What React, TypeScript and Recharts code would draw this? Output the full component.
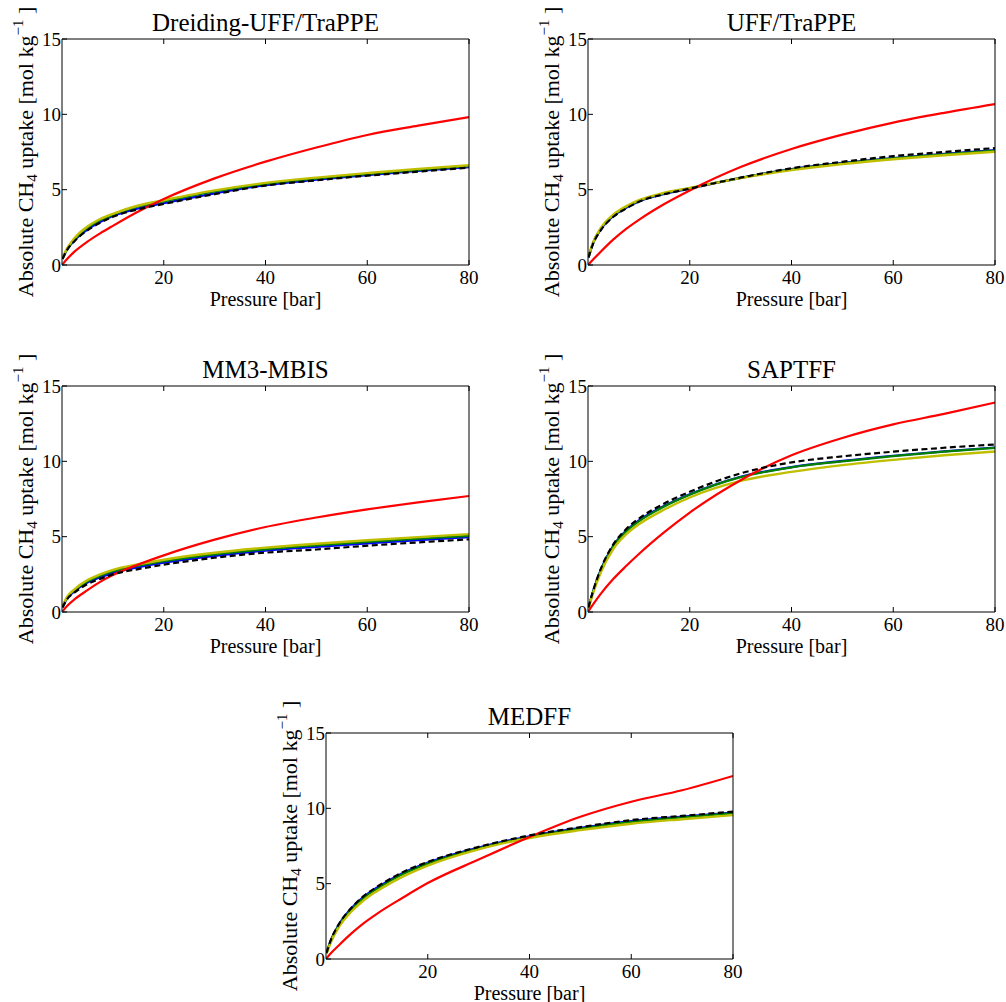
import React from 'react'
import { LineChart, Line, XAxis, YAxis, Label } from 'recharts'

const FONT = '"Liberation Serif", "Times New Roman", serif'

// pressure grid [bar]
const pressure = [0.1, 1, 2.5, 5, 7.5, 10, 15, 20, 30, 40, 50, 60, 70, 80]
const xTicks = [20, 40, 60, 80]
const yTicks = [0, 5, 10, 15]

// Dreiding-UFF/TraPPE
const dreidingRed = [0.05, 0.4, 0.9, 1.55, 2.1, 2.6, 3.55, 4.38, 5.75, 6.86, 7.8, 8.63, 9.25, 9.82]
const dreidingBlack = [0.4, 1.0, 1.6, 2.3, 2.8, 3.2, 3.7, 4.05, 4.7, 5.27, 5.62, 5.93, 6.2, 6.46]
const dreidingBlue = [0.42, 1.03, 1.65, 2.35, 2.85, 3.25, 3.75, 4.1, 4.75, 5.3, 5.66, 5.97, 6.24, 6.5]
const dreidingGreen = [0.43, 1.05, 1.72, 2.47, 2.97, 3.33, 3.88, 4.22, 4.88, 5.38, 5.73, 6.03, 6.3, 6.56]
const dreidingYellow = [0.45, 1.1, 1.8, 2.55, 3.05, 3.4, 3.95, 4.3, 4.95, 5.45, 5.8, 6.1, 6.38, 6.62]

// UFF/TraPPE
const uffRed = [0.04, 0.36, 0.88, 1.7, 2.4, 3.0, 4.05, 4.95, 6.5, 7.7, 8.65, 9.45, 10.1, 10.68]
const uffBlack = [0.5, 1.4, 2.3, 3.2, 3.75, 4.2, 4.7, 5.07, 5.8, 6.42, 6.85, 7.23, 7.5, 7.76]
const uffBlue = [0.5, 1.45, 2.35, 3.25, 3.8, 4.22, 4.72, 5.07, 5.78, 6.36, 6.78, 7.1, 7.38, 7.62]
const uffGreen = [0.52, 1.48, 2.4, 3.3, 3.85, 4.25, 4.75, 5.1, 5.78, 6.35, 6.75, 7.08, 7.35, 7.6]
const uffYellow = [0.55, 1.5, 2.45, 3.35, 3.9, 4.3, 4.8, 5.12, 5.77, 6.3, 6.7, 7.02, 7.28, 7.52]

// MM3-MBIS
const mm3Red = [0.05, 0.4, 0.85, 1.45, 2.0, 2.45, 3.15, 3.76, 4.8, 5.64, 6.27, 6.81, 7.28, 7.7]
const mm3Black = [0.3, 0.85, 1.3, 1.85, 2.2, 2.5, 2.85, 3.14, 3.6, 3.94, 4.15, 4.4, 4.62, 4.82]
const mm3Blue = [0.32, 0.9, 1.38, 1.95, 2.3, 2.6, 2.97, 3.27, 3.73, 4.07, 4.32, 4.55, 4.77, 4.97]
const mm3Green = [0.35, 0.95, 1.45, 2.03, 2.4, 2.7, 3.07, 3.37, 3.83, 4.16, 4.42, 4.65, 4.86, 5.05]
const mm3Yellow = [0.38, 1.0, 1.52, 2.12, 2.5, 2.8, 3.17, 3.47, 3.93, 4.27, 4.53, 4.76, 4.97, 5.17]

// SAPTFF
const saptRed = [0.05, 0.5, 1.2, 2.2, 3.05, 3.85, 5.3, 6.6, 8.75, 10.4, 11.55, 12.45, 13.15, 13.9]
const saptBlack = [0.3, 1.4, 2.85, 4.5, 5.5, 6.2, 7.2, 7.98, 9.2, 9.93, 10.33, 10.64, 10.9, 11.12]
const saptBlue = [0.3, 1.38, 2.8, 4.42, 5.4, 6.08, 7.05, 7.82, 8.98, 9.62, 10.03, 10.37, 10.66, 10.92]
const saptGreen = [0.3, 1.35, 2.77, 4.38, 5.35, 6.02, 7.0, 7.78, 8.95, 9.6, 10.0, 10.35, 10.64, 10.9]
const saptYellow = [0.25, 1.25, 2.62, 4.2, 5.15, 5.82, 6.8, 7.6, 8.7, 9.3, 9.75, 10.1, 10.4, 10.65]

// MEDFF
const medRed = [0.05, 0.4, 0.9, 1.7, 2.4, 3.0, 4.05, 5.04, 6.6, 8.1, 9.44, 10.44, 11.2, 12.15]
const medBlack = [0.4, 1.3, 2.3, 3.4, 4.2, 4.78, 5.75, 6.44, 7.44, 8.2, 8.75, 9.22, 9.5, 9.78]
const medBlue = [0.4, 1.28, 2.27, 3.37, 4.15, 4.73, 5.7, 6.4, 7.4, 8.15, 8.7, 9.15, 9.45, 9.72]
const medGreen = [0.38, 1.25, 2.22, 3.3, 4.08, 4.65, 5.62, 6.33, 7.35, 8.1, 8.65, 9.1, 9.4, 9.68]
const medYellow = [0.35, 1.15, 2.1, 3.15, 3.92, 4.5, 5.45, 6.2, 7.28, 8.03, 8.55, 8.98, 9.28, 9.55]

const toRows = (blue: number[], green: number[], yellow: number[], black: number[], red: number[]) =>
  pressure.map((p, i) => ({ p, blue: blue[i], green: green[i], yellow: yellow[i], black: black[i], red: red[i] }))

const panels = [
  { title: 'Dreiding-UFF/TraPPE', left: 0, top: 0, rows: toRows(dreidingBlue, dreidingGreen, dreidingYellow, dreidingBlack, dreidingRed) },
  { title: 'UFF/TraPPE', left: 526, top: 0, rows: toRows(uffBlue, uffGreen, uffYellow, uffBlack, uffRed) },
  { title: 'MM3-MBIS', left: 0, top: 347, rows: toRows(mm3Blue, mm3Green, mm3Yellow, mm3Black, mm3Red) },
  { title: 'SAPTFF', left: 526, top: 347, rows: toRows(saptBlue, saptGreen, saptYellow, saptBlack, saptRed) },
  { title: 'MEDFF', left: 264, top: 694, rows: toRows(medBlue, medGreen, medYellow, medBlack, medRed) },
]

const TICK = 5

// matplotlib-style inward ticks
const BottomTick = ({ x, y, payload }: any) => (
  <g>
    <line x1={x} y1={y} x2={x} y2={y - TICK} stroke="#000" />
    <text x={x} y={y + 19} textAnchor="middle" fontSize={19} fontFamily={FONT} fill="#000">
      {payload.value}
    </text>
  </g>
)
const TopTick = ({ x, y }: any) => <line x1={x} y1={y} x2={x} y2={y + TICK} stroke="#000" />
const LeftTick = ({ x, y, payload }: any) => (
  <g>
    <line x1={x} y1={y} x2={x + TICK} y2={y} stroke="#000" />
    <text x={x - 1} y={y + 6.5} textAnchor="end" fontSize={19} fontFamily={FONT} fill="#000">
      {payload.value}
    </text>
  </g>
)
const RightTick = ({ x, y }: any) => <line x1={x} y1={y} x2={x - TICK} y2={y} stroke="#000" />

const XTitle = ({ viewBox }: any) => (
  <text x={viewBox.x + viewBox.width / 2} y={viewBox.y + 41} textAnchor="middle" fontSize={20} fontFamily={FONT} fill="#000">
    Pressure [bar]
  </text>
)

const YTitle = ({ viewBox }: any) => {
  const bx = viewBox.x + viewBox.width - 29
  const cy = viewBox.y + viewBox.height / 2
  return (
    <text x={bx} y={cy} transform={`rotate(-90, ${bx}, ${cy})`} textAnchor="middle" fontSize={22} fontFamily={FONT} fill="#000">
      Absolute CH
      <tspan fontSize={15} dy={4}>4</tspan>
      <tspan dy={-4}> uptake [mol kg</tspan>
      <tspan fontSize={15} dy={-10}>−1</tspan>
      <tspan dy={10}> ]</tspan>
    </text>
  )
}

const PlotTitle = (title: string) => ({ viewBox }: any) => (
  <text x={viewBox.x + viewBox.width / 2} y={viewBox.y + viewBox.height - 8} textAnchor="middle" fontSize={25} fontFamily={FONT} fill="#000">
    {title}
  </text>
)

const Panel = ({ title, rows }: { title: string; rows: any[] }) => (
  <LineChart width={480} height={320} data={rows} margin={{ top: 38, right: 10, bottom: 0, left: 22 }}>
    <XAxis dataKey="p" type="number" domain={[0, 80]} ticks={xTicks} interval={0} allowDataOverflow
      height={55} tickSize={0} tickMargin={0} tickLine={false} axisLine={{ stroke: '#000' }} tick={BottomTick}>
      <Label content={XTitle} />
    </XAxis>
    <XAxis xAxisId="top" orientation="top" dataKey="p" type="number" domain={[0, 80]} ticks={xTicks} interval={0}
      height={1} tickSize={0} tickMargin={0} tickLine={false} axisLine={{ stroke: '#000' }} tick={TopTick}>
      <Label content={PlotTitle(title)} />
    </XAxis>
    <YAxis type="number" domain={[0, 15]} ticks={yTicks} interval={0} allowDataOverflow
      width={40} tickSize={0} tickMargin={0} tickLine={false} axisLine={{ stroke: '#000' }} tick={LeftTick}>
      <Label content={YTitle} />
    </YAxis>
    <YAxis yAxisId="right" orientation="right" type="number" domain={[0, 15]} ticks={yTicks} interval={0}
      width={1} tickSize={0} tickMargin={0} tickLine={false} axisLine={{ stroke: '#000' }} tick={RightTick} />
    <Line type="monotone" dataKey="blue" stroke="#0000ff" strokeWidth={2.2} dot={false} isAnimationActive={false} />
    <Line type="monotone" dataKey="green" stroke="#008000" strokeWidth={2.2} dot={false} isAnimationActive={false} />
    <Line type="monotone" dataKey="yellow" stroke="#bfbf00" strokeWidth={2.4} dot={false} isAnimationActive={false} />
    <Line type="monotone" dataKey="red" stroke="#ff0000" strokeWidth={2.2} dot={false} isAnimationActive={false} />
    <Line type="monotone" dataKey="black" stroke="#000" strokeWidth={2.2} strokeDasharray="6 3.5" dot={false} isAnimationActive={false} />
  </LineChart>
)

export default function App() {
  return (
    <div style={{ position: 'absolute', left: 0, top: 0, width: 1006, height: 1002, overflow: 'hidden', background: '#fff' }}>
      {panels.map((pn) => (
        <div key={pn.title} style={{ position: 'absolute', left: pn.left, top: pn.top }}>
          <Panel title={pn.title} rows={pn.rows} />
        </div>
      ))}
    </div>
  )
}
